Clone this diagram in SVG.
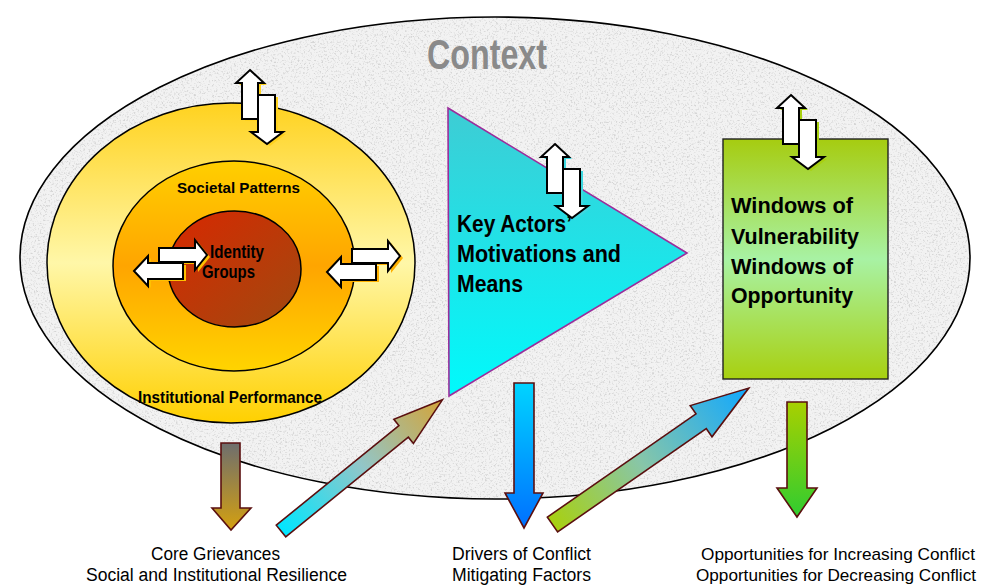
<svg xmlns="http://www.w3.org/2000/svg" xmlns:xlink="http://www.w3.org/1999/xlink" width="986" height="587" viewBox="0 0 986 587">
<style>
.t{font-family:"Liberation Sans",Arial,sans-serif;fill:#000}
.b{font-weight:bold}
.lbl{font-size:18px}
.lbr{font-size:17px}
.da{fill:#fff;stroke:#000;stroke-width:2;stroke-linejoin:miter}
.blk{stroke:#5A0F0F;stroke-width:1.6;stroke-linejoin:miter}
</style>
<defs>
<filter id="granite" x="0" y="0" width="100%" height="100%" color-interpolation-filters="sRGB">
<feTurbulence type="fractalNoise" baseFrequency="0.55" numOctaves="3" seed="7" result="n"/>
<feColorMatrix in="n" type="matrix" values="0 0 0 0 0.72  0 0 0 0 0.72  0 0 0 0 0.72  4 0 0 0 -2.1" result="g"/>
<feComposite in="g" in2="SourceGraphic" operator="in" result="gc"/>
<feComponentTransfer in="gc" result="gs"><feFuncA type="linear" slope="0.5"/></feComponentTransfer>
<feMerge><feMergeNode in="SourceGraphic"/><feMergeNode in="gs"/></feMerge>
</filter>
<linearGradient id="gOuter" x1="0" y1="0" x2="0" y2="1">
<stop offset="0" stop-color="#FFD21F"/><stop offset="0.5" stop-color="#FFF7A8"/><stop offset="1" stop-color="#FFD000"/>
</linearGradient>
<linearGradient id="gMid" x1="0" y1="0" x2="0" y2="1">
<stop offset="0" stop-color="#FFCF00"/><stop offset="0.5" stop-color="#FFA500"/><stop offset="1" stop-color="#FFD400"/>
</linearGradient>
<linearGradient id="gInner" x1="0" y1="0" x2="1" y2="1">
<stop offset="0" stop-color="#D82800"/><stop offset="1" stop-color="#A04A10"/>
</linearGradient>
<linearGradient id="gTri" x1="0" y1="0" x2="0" y2="1">
<stop offset="0" stop-color="#3ECCD4"/><stop offset="1" stop-color="#00FAFC"/>
</linearGradient>
<linearGradient id="gRect" x1="0" y1="0" x2="0" y2="1">
<stop offset="0" stop-color="#A6CC10"/><stop offset="0.5" stop-color="#A8F2A4"/><stop offset="1" stop-color="#A8D010"/>
</linearGradient>
<linearGradient id="gA1" x1="0" y1="0" x2="0" y2="1">
<stop offset="0" stop-color="#6E6E6E"/><stop offset="1" stop-color="#D4A010"/>
</linearGradient>
<linearGradient id="gA2" x1="0" y1="0" x2="1" y2="0">
<stop offset="0" stop-color="#00E6FF"/><stop offset="0.5" stop-color="#92C6C8"/><stop offset="1" stop-color="#D4A438"/>
</linearGradient>
<linearGradient id="gA3" x1="0" y1="0" x2="0" y2="1">
<stop offset="0" stop-color="#00D4FF"/><stop offset="1" stop-color="#0070FF"/>
</linearGradient>
<linearGradient id="gA4" x1="0" y1="0" x2="1" y2="0">
<stop offset="0" stop-color="#A8D010"/><stop offset="0.45" stop-color="#88C6A8"/><stop offset="1" stop-color="#10A8FF"/>
</linearGradient>
<linearGradient id="gA5" x1="0" y1="0" x2="0" y2="1">
<stop offset="0" stop-color="#A8D000"/><stop offset="1" stop-color="#30CC30"/>
</linearGradient>
<g id="dv">
<polygon points="0,0 14,13 8,13 8,49 -8,49 -8,13 -14,13"/>
<polygon points="8,25 25,25 25,62 33,62 17,74 1,62 8,62"/>
</g>
<g id="dh">
<polygon points="25,-23 61,-23 61,-31 73,-16 61,-1 61,-9 25,-9"/>
<polygon points="0,0 14,-15 14,-8 49,-8 49,8 14,8 14,15"/>
</g>
</defs>

<g id="context">
<ellipse cx="495" cy="258" rx="475" ry="241" fill="#F2F2F2" filter="url(#granite)"/>
<ellipse cx="495" cy="258" rx="475" ry="241" fill="none" stroke="#000" stroke-width="1.6"/>
<text class="t b" x="487" y="69" font-size="43" style="fill:#8A8A8A" text-anchor="middle" textLength="120" lengthAdjust="spacingAndGlyphs">Context</text>
</g>

<g id="institutional">
<ellipse cx="231" cy="263" rx="184" ry="160" fill="url(#gOuter)" stroke="#000" stroke-width="1.5"/>
<text class="t b" x="230" y="403" font-size="17" text-anchor="middle" textLength="184" lengthAdjust="spacingAndGlyphs">Institutional Performance</text>
</g>
<g id="societal">
<ellipse cx="234" cy="266" rx="121" ry="105" fill="url(#gMid)" stroke="#000" stroke-width="1.5"/>
<text class="t b" x="238.5" y="193" font-size="15" text-anchor="middle" textLength="123" lengthAdjust="spacingAndGlyphs">Societal Patterns</text>
</g>
<g id="identity">
<ellipse cx="234.5" cy="269" rx="66.5" ry="58" fill="url(#gInner)" stroke="#000" stroke-width="1.5"/>
<text class="t b" x="210" y="258" font-size="18" textLength="54" lengthAdjust="spacingAndGlyphs">Identity</text>
<text class="t b" x="202" y="278" font-size="18" textLength="53" lengthAdjust="spacingAndGlyphs">Groups</text>
</g>

<g id="keyactors">
<polygon points="448,108 687,253 449,396" fill="url(#gTri)" stroke="#9B2D9B" stroke-width="1.6"/>
<text class="t b" x="457" y="232" font-size="24" textLength="115" lengthAdjust="spacingAndGlyphs">Key Actors’</text>
<text class="t b" x="457" y="262" font-size="24" textLength="164" lengthAdjust="spacingAndGlyphs">Motivations and</text>
<text class="t b" x="457" y="292" font-size="24" textLength="66" lengthAdjust="spacingAndGlyphs">Means</text>
</g>

<g id="windows">
<rect x="723" y="139" width="165" height="240" fill="url(#gRect)" stroke="#222" stroke-width="1.4"/>
<text class="t b" x="731" y="213" font-size="22" textLength="122" lengthAdjust="spacingAndGlyphs">Windows of</text>
<text class="t b" x="731" y="244" font-size="22" textLength="128" lengthAdjust="spacingAndGlyphs">Vulnerability</text>
<text class="t b" x="731" y="274" font-size="22" textLength="122" lengthAdjust="spacingAndGlyphs">Windows of</text>
<text class="t b" x="731" y="303" font-size="22" textLength="122" lengthAdjust="spacingAndGlyphs">Opportunity</text>
</g>

<g id="interactions">
<use xlink:href="#dv" href="#dv" transform="translate(253,72)" fill="#FFD21E"/>
<use xlink:href="#dv" href="#dv" transform="translate(250,70)" class="da"/>
<use xlink:href="#dv" href="#dv" transform="translate(558,146)" fill="#3ED8E0"/>
<use xlink:href="#dv" href="#dv" transform="translate(555,144)" class="da"/>
<use xlink:href="#dv" href="#dv" transform="translate(794,97)" fill="#A8D010"/>
<use xlink:href="#dv" href="#dv" transform="translate(791,95)" class="da"/>
<use xlink:href="#dh" href="#dh" transform="translate(137,273)" fill="#FFC000"/>
<use xlink:href="#dh" href="#dh" transform="translate(134,271)" class="da"/>
<use xlink:href="#dh" href="#dh" transform="translate(330,274)" fill="#FFB000"/>
<use xlink:href="#dh" href="#dh" transform="translate(327,272)" class="da"/>
</g>

<g id="connectors">
<polygon class="blk" fill="url(#gA1)" points="221,443 240,443 240,508 251,508 231,530 212,508 221,508"/>
<polygon class="blk" fill="url(#gA2)" transform="translate(281,531) rotate(-39.1)" points="0,-7.5 158,-7.5 158,-15.5 208,0 158,15.5 158,7.5 0,7.5"/>
<polygon class="blk" fill="url(#gA3)" points="514,383 534,383 534,493 543,493 524,528 505,493 514,493"/>
<polygon class="blk" fill="url(#gA4)" transform="translate(552.5,524.5) rotate(-34.8)" points="0,-9 181,-9 181,-19 239,0 181,19 181,9 0,9"/>
<polygon class="blk" fill="url(#gA5)" points="787,402 807,402 807,488 817,488 797,517 777,488 787,488"/>
</g>

<g id="labels">
<text class="t lbl" x="215.5" y="560" text-anchor="middle" textLength="129" lengthAdjust="spacingAndGlyphs">Core Grievances</text>
<text class="t lbl" x="216.5" y="581" text-anchor="middle" textLength="261" lengthAdjust="spacingAndGlyphs">Social and Institutional Resilience</text>
<text class="t lbl" x="521.5" y="560" text-anchor="middle" textLength="139" lengthAdjust="spacingAndGlyphs">Drivers of Conflict</text>
<text class="t lbl" x="521.5" y="581" text-anchor="middle" textLength="139" lengthAdjust="spacingAndGlyphs">Mitigating Factors</text>
<text class="t lbr" x="838" y="560" text-anchor="middle" textLength="274" lengthAdjust="spacingAndGlyphs">Opportunities for Increasing Conflict</text>
<text class="t lbr" x="836" y="581" text-anchor="middle" textLength="280" lengthAdjust="spacingAndGlyphs">Opportunities for Decreasing Conflict</text>
</g>
</svg>
